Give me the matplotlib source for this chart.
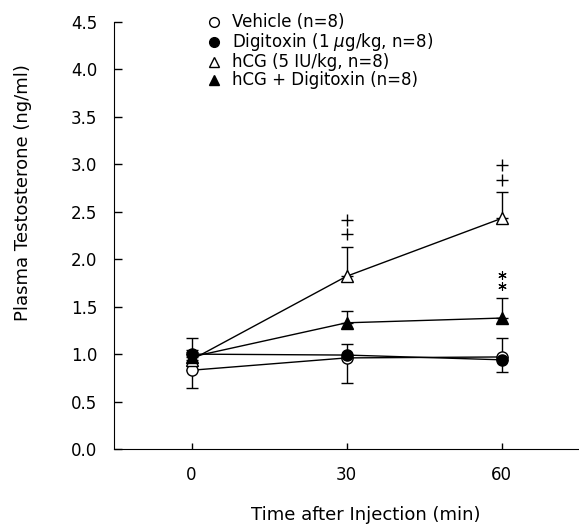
import matplotlib
matplotlib.use("Agg")
import matplotlib.pyplot as plt
from matplotlib.lines import Line2D
import numpy as np

# tiempos y medias (ng/ml)
tiempos = [0, 30, 60]
vehicle = [0.83, 0.96, 0.97]
digitoxin = [1.00, 0.99, 0.94]
hcg = [0.94, 1.82, 2.43]
hcg_dig = [0.97, 1.33, 1.38]

# SEM (abajo, arriba)
vehicle_err = [[0.19, 0.26, 0.0], [0.0, 0.0, 0.20]]
digitoxin_err = [[0.0, 0.0, 0.13], [0.17, 0.12, 0.0]]
hcg_err = [[0.0, 0.0, 0.0], [0.10, 0.31, 0.28]]
hcg_dig_err = [[0.0, 0.0, 0.0], [0.05, 0.12, 0.21]]

# marcas de significancia
plus_x = [30, 30, 60, 60]
plus_y = [2.27, 2.41, 2.84, 2.99]
star_x = [60, 60]
star_y = [1.72, 1.83]

etiquetas = ["Vehicle (n=8)", r"Digitoxin (1 $\mu$g/kg, n=8)",
             "hCG (5 IU/kg, n=8)", "hCG + Digitoxin (n=8)"]

plt.rcParams["font.family"] = "DejaVu Sans"
plt.rcParams["mathtext.fontset"] = "dejavusans"

fig = plt.figure(figsize=(5.79, 5.29), dpi=100)
ax = fig.add_axes([114 / 579, 80 / 529, 1 - 114 / 579, 427 / 529])

series = [
    (vehicle, vehicle_err, "o", "white"),
    (digitoxin, digitoxin_err, "o", "black"),
    (hcg, hcg_err, "^", "white"),
    (hcg_dig, hcg_dig_err, "^", "black"),
]
for vals, err, mk, fc in series:
    ax.errorbar(tiempos, vals, yerr=np.array(err), fmt="-", color="black",
                lw=1, marker=mk, ms=8, mfc=fc, mec="black", mew=1,
                capsize=4, elinewidth=1, capthick=1, zorder=3)

ax.plot(plus_x, plus_y, ls="none", marker="+", ms=8, mew=1, color="black")
ax.plot(star_x, star_y, ls="none", marker=(6, 2, 0), ms=6, mew=0.8, color="black")

ax.set_xlim(-15, 75)
ax.set_ylim(0, 4.5)
ax.set_xticks([0, 30, 60])
ax.set_yticks(np.arange(0, 4.51, 0.5))
ax.set_yticklabels([f"{v:.1f}" for v in np.arange(0, 4.51, 0.5)])
ax.spines["top"].set_visible(False)
ax.spines["right"].set_visible(False)
ax.tick_params(axis="both", direction="in", labelsize=12, width=1)
ax.tick_params(axis="y", length=6, pad=12)
ax.tick_params(axis="x", length=4, pad=12)
ax.set_xlabel("Time after Injection (min)", fontsize=13)
ax.xaxis.set_label_coords(0.5 + 19 / 465, -0.133)
ax.set_ylabel("Plasma Testosterone (ng/ml)", fontsize=13)
ax.yaxis.set_label_coords(-0.176, 0.6)

handles = [Line2D([], [], ls="none", marker="o", ms=7, mfc="white", mec="black"),
           Line2D([], [], ls="none", marker="o", ms=7, mfc="black", mec="black"),
           Line2D([], [], ls="none", marker="^", ms=7, mfc="white", mec="black"),
           Line2D([], [], ls="none", marker="^", ms=7, mfc="black", mec="black")]
ax.legend(handles, etiquetas, loc="upper left", bbox_to_anchor=(199 / 579, 1 - 5 / 529),
          bbox_transform=fig.transFigure, frameon=False, fontsize=12,
          handlelength=0.8, handletextpad=0.7, labelspacing=0.0, borderpad=0)

plt.savefig("out.png", dpi=100)
plt.close()
